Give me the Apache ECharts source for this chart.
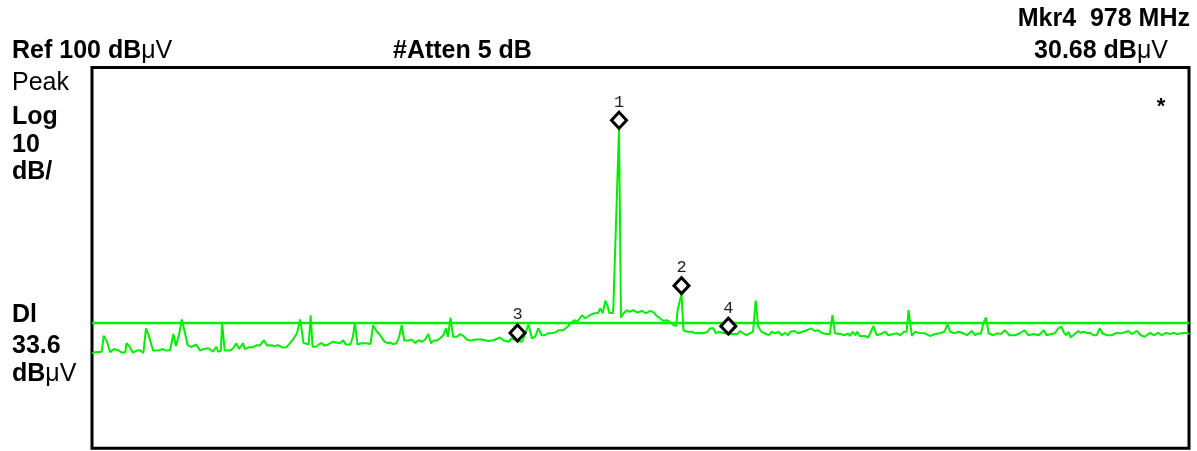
<!DOCTYPE html>
<html>
<head>
<meta charset="utf-8">
<script src="https://cdn.jsdelivr.net/npm/echarts@6/dist/echarts.min.js"></script>
<style>
html,body{margin:0;padding:0;background:#fff;}
#chart{width:1197px;height:451px;}
</style>
</head>
<body>
<div id="chart"></div>
<script>
// Frequency (MHz) of each trace point
const freqs = [0,5,15,18,23,28,34,40,46,51,53,57,63,69,74,76,79,83,87,94,102,109,114,120,125,129,134,138,143,147,
153,160,166,171,179,182,186,191,194,198,200,204,212,217,222,226,232,235,242,248,253,258,264,269,276,281,286,293,299,
304,309,315,320,325,333,336,339,344,349,353,357,363,370,376,381,386,390,397,401,404,408,415,422,428,432,438,443,448,
454,458,463,468,472,476,480,486,491,497,502,507,512,517,521,525,530,535,540,544,547,551,555,561,566,571,576,582,589,595,
599,609,617,627,632,640,645,654,661,664,671,676,681,686,691,696,701,707,712,717,724,731,736,741,746,753,758,765,772,
778,781,785,789,792,795,801,810,813,817,822,827,832,838,845,852,857,863,868,873,878,883,888,894,898,900,906,909,915,
922,927,935,940,946,950,955,959,963,966,978,986,992,996,1001,1006,1011,1016,1020,1024,1029,1034,1040,1045,1050,1055,
1060,1065,1070,1073,1079,1086,1092,1099,1105,1111,1116,1122,1129,1134,1138,1142,1150,1157,1162,1165,1169,1173,1176,
1180,1188,1193,1201,1206,1212,1219,1224,1232,1237,1242,1248,1252,1255,1260,1265,1272,1280,1288,1296,1303,1310,1315,
1319,1325,1332,1339,1345,1352,1357,1362,1366,1370,1374,1378,1385,1391,1397,1403,1410,1419,1426,1433,1439,1447,1455,
1463,1467,1474,1480,1485,1490,1494,1497,1501,1504,1508,1512,1516,1520,1524,1529,1534,1539,1544,1549,1553,1560,1567,
1575,1583,1593,1598,1606,1612,1618,1626,1632,1639,1644,1651,1657,1662,1668,1675,1680,1686];

// Trace level (dBµV) at each point
const levels = [25.7,26.0,26.1,30.3,28.7,26.0,26.8,26.5,25.9,25.9,28.3,27.6,25.9,26.4,26.5,26.8,25.8,32.2,30.4,26.4,
26.4,26.8,26.4,26.5,30.7,27.6,30.7,34.5,30.9,27.8,
27.3,28.0,26.4,26.8,27.0,27.3,26.1,27.4,26.1,26.4,33.5,26.4,26.4,27.0,28.3,26.8,28.3,26.8,27.3,27.3,27.8,27.7,29.1,27.7,27.8,27.6,27.8,27.2,27.3,
28.3,29.3,30.9,34.5,28.4,28.0,35.6,27.4,27.4,28.0,28.4,27.7,28.0,28.7,28.5,28.3,29.1,28.0,28.0,30.0,33.6,28.0,28.3,28.3,28.1,33.0,31.3,30.4,29.0,
28.3,28.5,28.1,28.3,30.0,33.0,29.0,29.0,29.3,28.4,29.1,28.7,29.3,30.7,28.3,29.0,29.0,29.6,30.4,32.2,30.0,35.0,30.0,30.0,30.7,30.2,29.3,29.0,29.3,29.3,
29.3,28.9,29.1,29.8,29.1,28.7,29.6,28.9,28.7,30.0,33.2,29.6,30.0,32.2,30.4,30.4,30.9,31.0,31.1,31.7,31.7,32.6,33.6,34.3,33.9,35.6,34.8,35.6,36.1,
36.2,37.4,36.1,39.4,38.2,36.2,36.2,84.2,35.0,36.1,36.9,36.5,36.9,36.3,36.7,36.1,36.7,36.4,35.4,34.8,34.1,34.3,33.9,33.0,32.8,36.9,41.2,31.7,31.3,
31.3,30.9,31.0,30.9,31.3,32.2,32.2,30.9,31.3,31.0,30.7,30.7,30.7,31.5,30.9,30.4,30.9,31.3,39.4,32.6,31.3,30.9,30.4,31.3,30.9,31.3,
30.4,31.0,30.4,31.3,31.5,30.9,31.3,31.7,32.2,31.5,31.7,31.0,30.7,30.7,35.6,30.9,30.7,30.4,30.9,30.2,31.3,30.4,31.3,
30.2,30.2,29.8,32.8,30.4,30.7,31.3,30.4,30.7,30.9,30.4,31.3,31.3,36.9,30.2,31.3,31.0,30.9,30.2,30.7,30.9,31.3,33.2,
31.3,30.9,31.3,30.9,30.4,31.5,30.4,30.9,30.7,33.5,35.0,30.9,30.4,30.9,30.7,31.7,30.4,30.4,30.9,31.7,30.4,30.7,30.4,
31.7,30.4,30.7,30.9,32.2,32.6,31.0,30.4,31.3,29.8,30.4,30.9,31.5,31.0,31.3,31.0,31.0,30.4,30.4,32.2,30.9,30.4,30.4,
31.0,30.9,31.5,30.7,31.5,30.4,30.0,31.0,30.4,31.0,30.4,31.0,30.7,31.0,30.7,30.9,31.0,30.7];

// Markers
const markerNames = ['1','2','3','4'];
const markerFreqs = [810, 906, 654, 978];
const markerLevels = [84.2, 41.2, 28.9, 30.68];

// Display line
const displayLine = 33.6;

// Axis ranges
const freqMin = 0, freqMax = 1686;
const levelMin = 1, levelMax = 100;

const traceData = freqs.map((f, i) => [f, levels[i]]);
const markerData = markerFreqs.map((f, i) => ({ value: [f, markerLevels[i]], name: markerNames[i] }));

const FONT = '"Liberation Sans", Arial, Helvetica, sans-serif';
const GREEN = '#00ee00';

function rt(x, y, text, align) {
  return {
    type: 'text', x: x, y: y, silent: true,
    style: {
      text: text, align: align || 'left', verticalAlign: 'middle', fill: '#000',
      rich: {
        b: { fontFamily: FONT, fontSize: 25, fontWeight: 'bold', fill: '#000' },
        r: { fontFamily: FONT, fontSize: 25, fontWeight: 'normal', fill: '#000' }
      }
    }
  };
}

const chart = echarts.init(document.getElementById('chart'), null, { renderer: 'canvas' });
chart.setOption({
  animation: false,
  backgroundColor: '#fff',
  grid: { left: 92, right: 8, top: 67.5, bottom: 2.7, show: true, borderColor: '#000', borderWidth: 3, backgroundColor: 'transparent' },
  xAxis: { type: 'value', min: freqMin, max: freqMax, show: false, splitLine: { show: false } },
  yAxis: { type: 'value', min: levelMin, max: levelMax, show: false, splitLine: { show: false } },
  graphic: [
    rt(12, 51, '{b|Ref 100 dB}{r|μV}'),
    rt(393, 51, '{b|#Atten 5 dB}'),
    rt(1190, 19, '{b|Mkr4  978 MHz}', 'right'),
    rt(1168, 51, '{b|30.68 dB}{r|μV}', 'right'),
    rt(12, 83, '{r|Peak}'),
    rt(12, 117, '{b|Log}'),
    rt(12, 145, '{b|10}'),
    rt(12, 172, '{b|dB/}'),
    rt(12, 315, '{b|Dl}'),
    rt(12, 346, '{b|33.6}'),
    rt(12, 374, '{b|dB}{r|μV}'),
    { type: 'text', x: 1161, y: 107, silent: true,
      style: { text: '*', fontFamily: FONT, fontSize: 22, fontWeight: 'bold', fill: '#000', align: 'center', verticalAlign: 'middle' } }
  ],
  series: [
    {
      type: 'line', data: traceData, showSymbol: false, symbol: 'none', silent: true,
      lineStyle: { color: GREEN, width: 2 }, z: 2,
      markLine: {
        silent: true, symbol: 'none', label: { show: false },
        lineStyle: { color: GREEN, width: 2.4, type: 'solid' },
        data: [{ yAxis: displayLine }]
      }
    },
    {
      type: 'scatter', data: markerData, symbol: 'diamond', symbolSize: [15, 16],
      symbolOffset: [0, -8], silent: true, z: 5,
      itemStyle: { color: '#fff', borderColor: '#000', borderWidth: 3, opacity: 1 },
      label: {
        show: true, position: 'top', distance: 0, formatter: p => p.name,
        fontFamily: '"Liberation Mono", "DejaVu Sans Mono", monospace', fontSize: 17, color: '#222'
      }
    }
  ]
});
</script>
</body>
</html>
